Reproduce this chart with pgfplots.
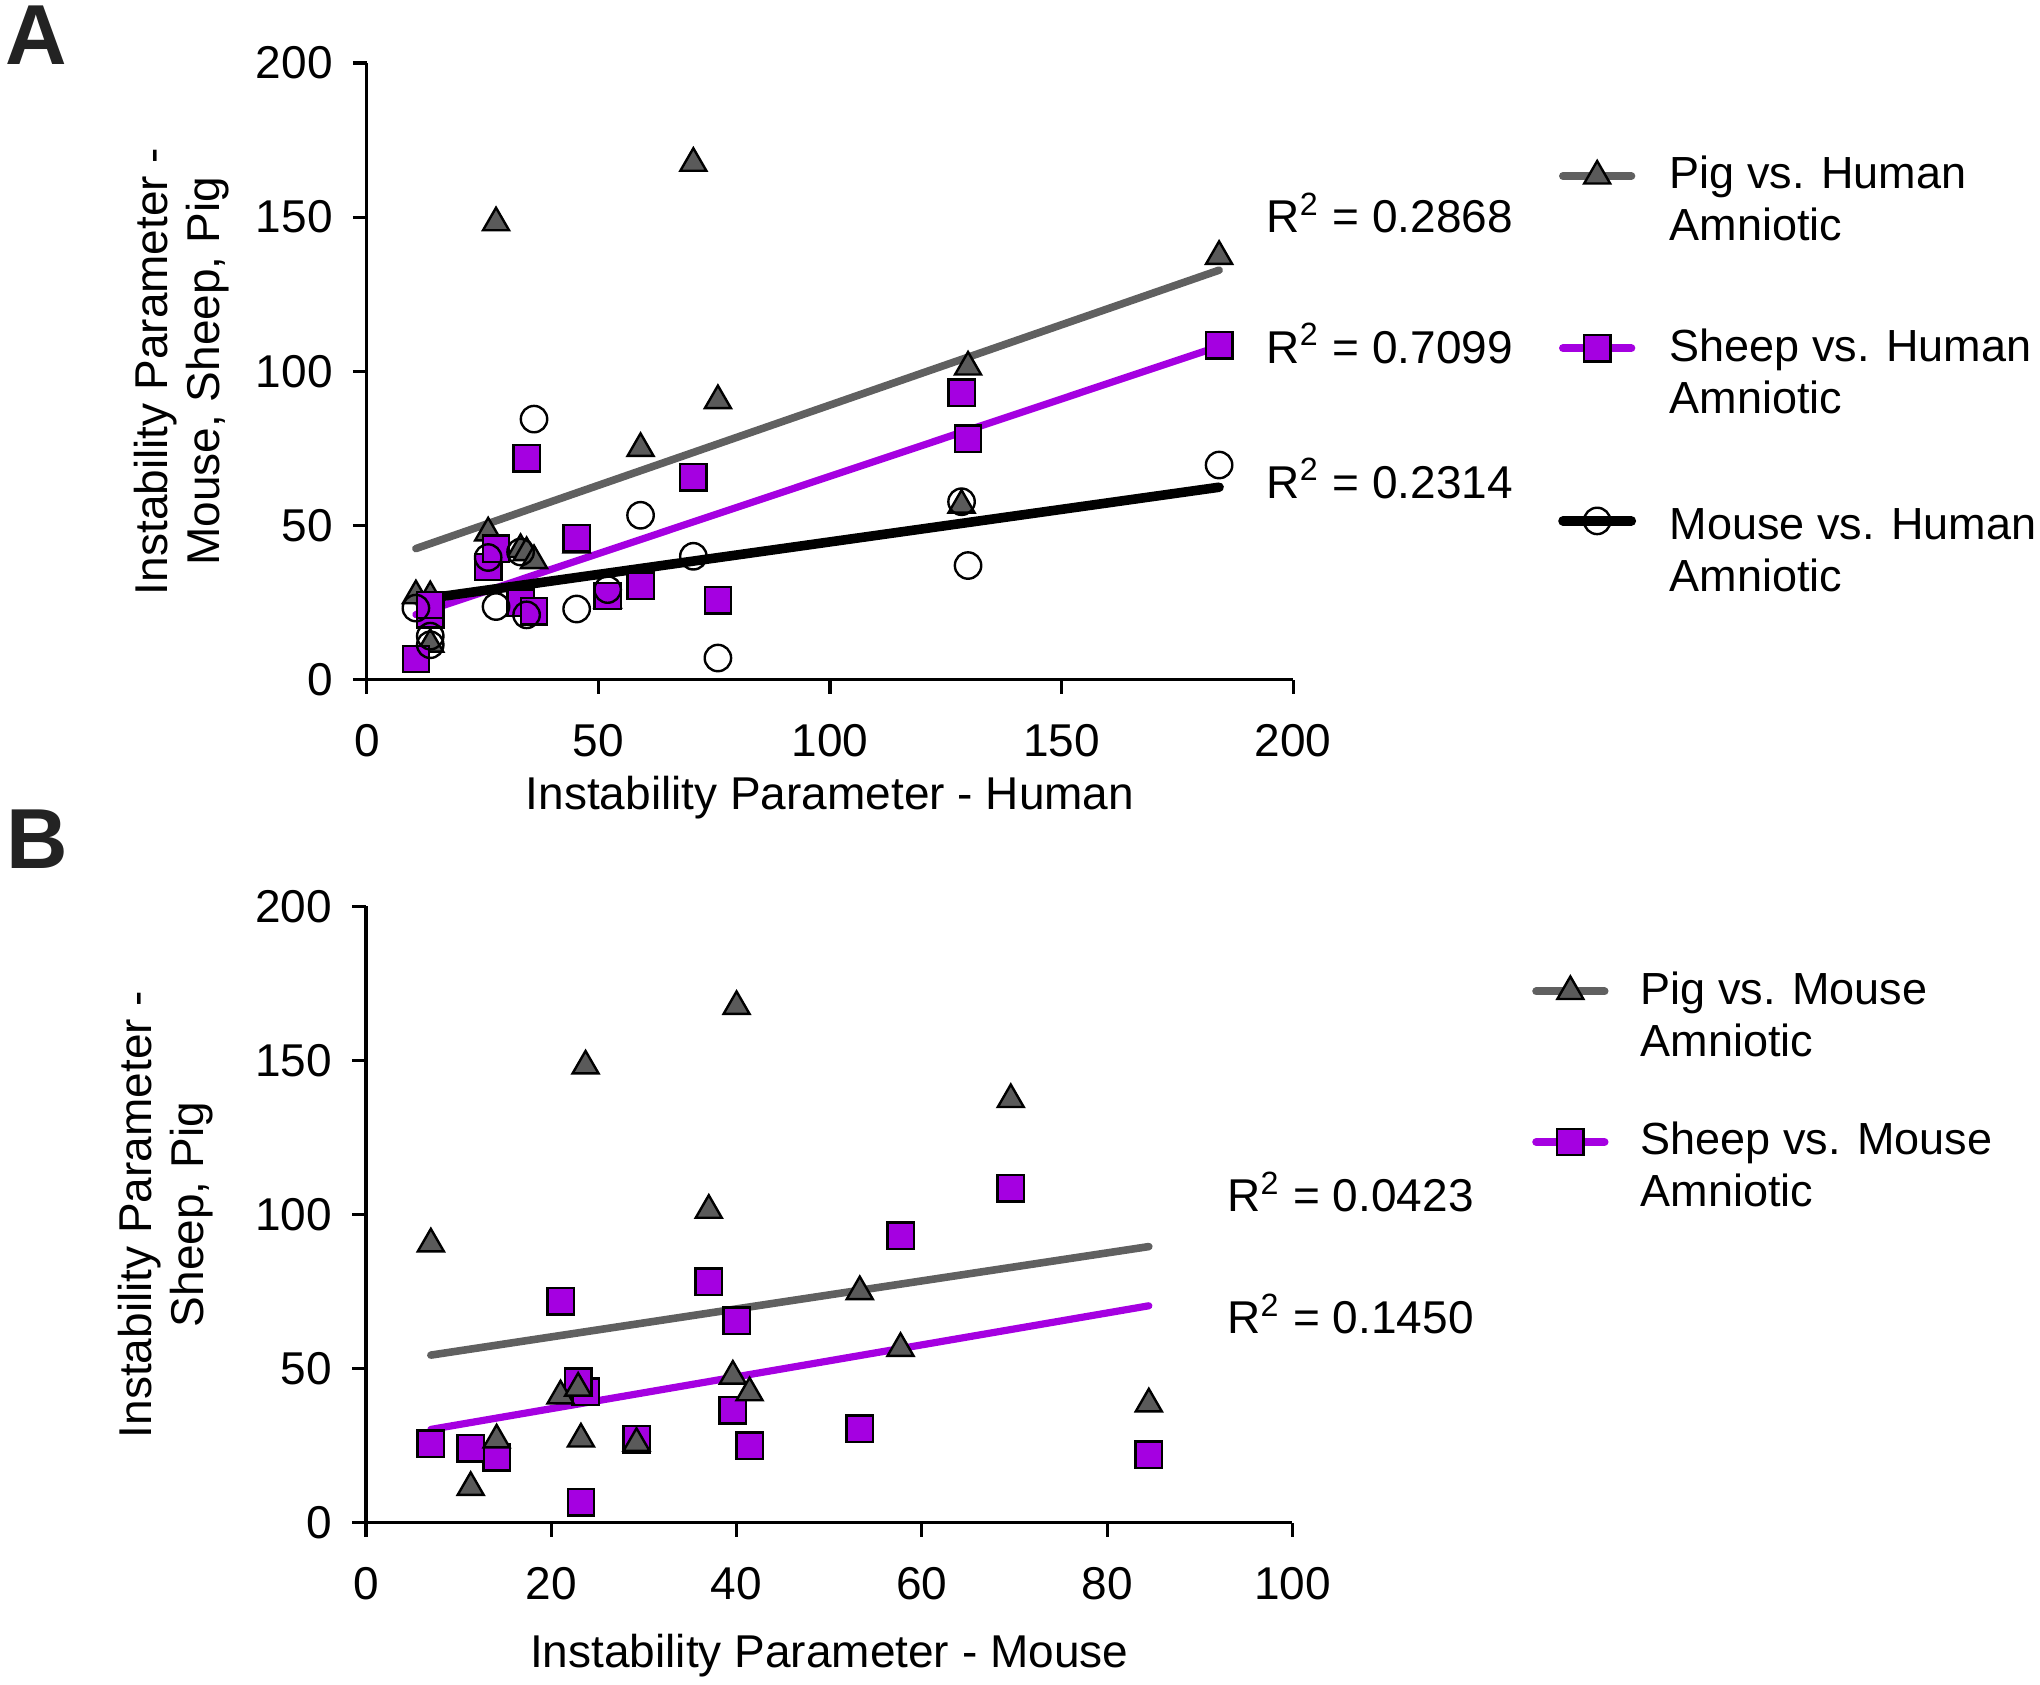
\documentclass[border=0pt]{standalone}
\usepackage{pgfplots}
\usepackage{pgfplotstable}
\pgfplotsset{compat=1.18}
\usepackage{fontspec}
\setmainfont{Liberation Sans}
\definecolor{pgray}{RGB}{96,96,96}
\definecolor{tgray}{RGB}{90,90,90}
\definecolor{ppurple}{RGB}{165,0,225}
\definecolor{lettc}{RGB}{35,35,35}

\pgfplotstableread{
h m s p
10.6 23.2 6.7 27.2
13.7 14.1 21.2 26.9
13.7 11.3 24.2 11.5
26.2 39.6 36.5 47.6
27.9 23.7 42.5 148.2
33.2 41.4 25.0 42.2
34.5 21.0 71.8 41.2
36.1 84.5 22.1 38.6
45.3 22.9 45.8 43.7
52.0 29.2 27.1 25.8
59.1 53.3 30.5 75.0
70.5 40.0 65.6 167.5
75.8 7.0 25.7 90.5
128.4 57.7 93.1 56.6
129.8 37.0 78.2 101.4
184.0 69.6 108.5 137.3
}\data

\newcommand{\fs}{\fontsize{11.5}{13}\selectfont}
\newcommand{\fl}{\fontsize{11.25}{13}\selectfont}

\pgfplotsset{
  base/.style={
    scale only axis, width=231.6pt, height=154.15pt,
    anchor=south west,
    axis lines*=left, axis line style={line width=0.8pt, -},
    tick align=outside, major tick length=3.5pt,
    tick style={line width=0.8pt, black},
    minor tick num=0,
    /pgf/number format/assume math mode=true,
    ticklabel style={font=\fs},
    xticklabel style={yshift=-4.2pt},
    yticklabel style={xshift=-1.5pt},
    label style={font=\fs},
    ymin=0, ymax=200, ytick={0,50,100,150,200},
    clip=false,
    legend cell align=left,
    legend image post style={yshift=6.4pt},
    legend style={draw=none, fill=none, inner sep=0pt, anchor=north west,
      nodes={inner sep=0pt, align=left, font=\fl}},
  },
  pigm/.style={only marks, mark=triangle*, mark size=3.75pt,
    mark options={fill=tgray, draw=black, line width=0.6pt}},
  sheepm/.style={only marks, mark=square*, mark size=3.3pt,
    mark options={fill=ppurple, draw=black, line width=0.6pt}},
  mousem/.style={only marks, mark=o, mark size=3.3pt,
    mark options={draw=black, line width=0.6pt}},
  pigl/.style={pgray, line width=1.9pt, line cap=round},
  sheepl/.style={ppurple, line width=1.8pt, line cap=round},
  mousel/.style={black, line width=2.4pt, line cap=round},
}

\begin{document}
\begin{tikzpicture}
\useasboundingbox (0,0) rectangle (510pt,421pt);

% Panel A
\begin{axis}[base, at={(91.7pt,251.1pt)},
  xmin=0, xmax=200, xtick={0,50,100,150,200},
  xlabel={Instability Parameter - Human},
  xlabel style={at={(axis description cs:0.5,-0.192)}, anchor=center},
  ylabel={Instability Parameter -\\Mouse, Sheep, Pig},
  ylabel style={align=center, at={(axis description cs:-0.1997,0.5)}, anchor=center},
  legend style={at={(axis description cs:1.2852,0.85)}, row sep=20.4pt, column sep=8.35pt},
]
\addlegendimage{pigl, line width=2pt, mark=triangle*, mark size=3.75pt, mark options={fill=tgray, draw=black, line width=0.6pt, solid}}
\addlegendentry{Pig vs. Human\\Amniotic}
\addlegendimage{sheepl, line width=2pt, mark=square*, mark size=3.3pt, mark options={fill=ppurple, draw=black, line width=0.6pt, solid}}
\addlegendentry{Sheep vs. Human\\Amniotic}
\addlegendimage{mousel, yshift=0.7pt, mark=o, mark size=3.3pt, mark options={draw=black, line width=0.6pt, solid}}
\addlegendentry{\rule{0pt}{9.8pt}Mouse vs. Human\\Amniotic}
\addplot[pigl, forget plot] coordinates {(10.6,42.5) (184,132.8)};
\addplot[sheepl, forget plot] coordinates {(10.6,21.1) (184,108.1)};
\addplot[mousel, forget plot] coordinates {(10.6,25.8) (184,62.4)};
\addplot[pigm, forget plot] table[x=h, y=p] {\data};
\addplot[sheepm, forget plot] table[x=h, y=s] {\data};
\addplot[mousem, forget plot] table[x=h, y=m] {\data};
\node[anchor=west, inner sep=0pt, font=\fs] at (axis cs:194.1,151.4) {R\textsuperscript{2} = 0.2868};
\node[anchor=west, inner sep=0pt, font=\fs] at (axis cs:194.1,109.0) {R\textsuperscript{2} = 0.7099};
\node[anchor=west, inner sep=0pt, font=\fs] at (axis cs:194.1,65.3) {R\textsuperscript{2} = 0.2314};
\end{axis}

% Panel B
\begin{axis}[base, at={(91.5pt,40.3pt)},
  xmin=0, xmax=100, xtick={0,20,40,60,80,100},
  xlabel={Instability Parameter - Mouse},
  xlabel style={at={(axis description cs:0.5,-0.216)}, anchor=center},
  ylabel={Instability Parameter -\\Sheep, Pig},
  ylabel style={align=center, at={(axis description cs:-0.2167,0.5)}, anchor=center},
  legend style={at={(axis description cs:1.258,0.895)}, row sep=15pt, column sep=8pt},
]
\addlegendimage{pigl, line width=2pt, mark=triangle*, mark size=3.75pt, mark options={fill=tgray, draw=black, line width=0.6pt, solid}}
\addlegendentry{Pig vs. Mouse\\Amniotic}
\addlegendimage{sheepl, line width=2pt, mark=square*, mark size=3.3pt, mark options={fill=ppurple, draw=black, line width=0.6pt, solid}}
\addlegendentry{Sheep vs. Mouse\\Amniotic}
\addplot[pigl, forget plot] coordinates {(7.0,54.4) (84.5,89.6)};
\addplot[sheepl, forget plot] coordinates {(7.0,30.3) (84.5,70.4)};
\addplot[sheepm, forget plot] table[x=m, y=s] {\data};
\addplot[pigm, forget plot] table[x=m, y=p] {\data};
\node[anchor=west, inner sep=0pt, font=\fs] at (axis cs:92.9,107.4) {R\textsuperscript{2} = 0.0423};
\node[anchor=west, inner sep=0pt, font=\fs] at (axis cs:92.9,67.7) {R\textsuperscript{2} = 0.1450};
\end{axis}

\node[anchor=north west, inner sep=0pt, text=lettc, font=\fontsize{21.3}{24}\selectfont\bfseries] at (1.2pt,419.75pt) {A};
\node[anchor=north west, inner sep=0pt, text=lettc, font=\fontsize{21.3}{24}\selectfont\bfseries] at (1.5pt,218.75pt) {B};
\end{tikzpicture}
\end{document}
